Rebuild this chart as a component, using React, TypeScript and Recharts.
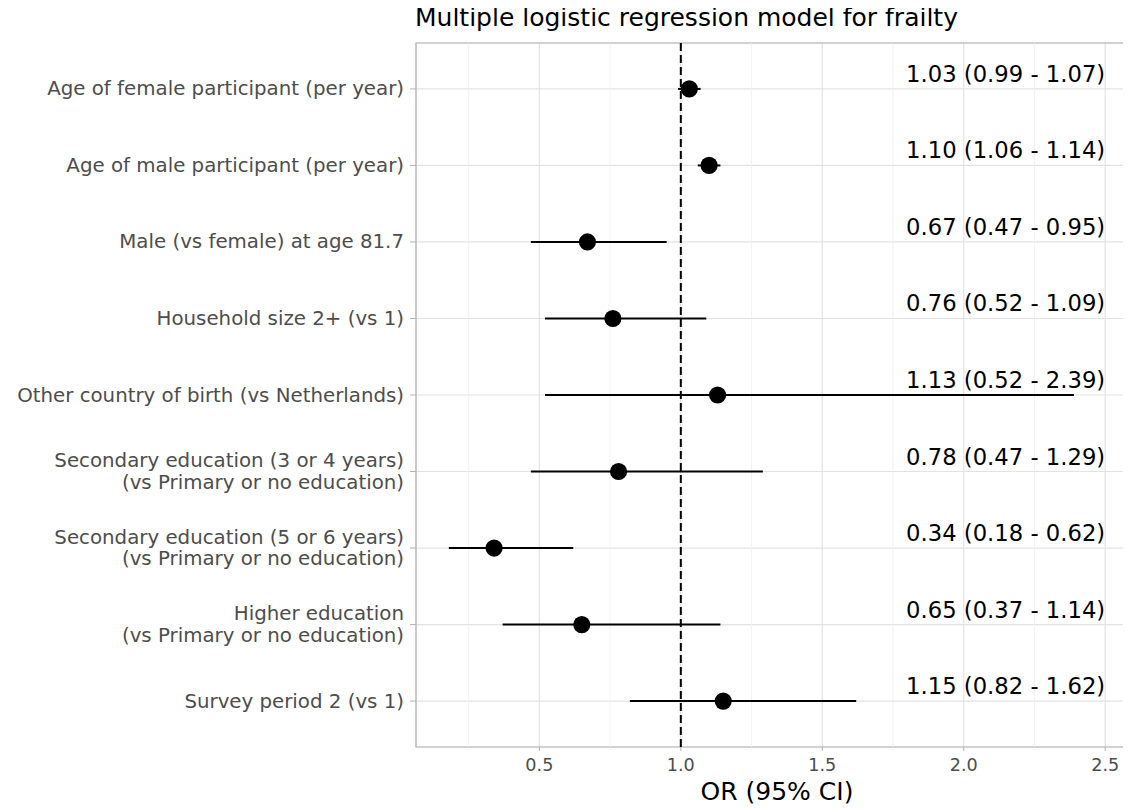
import React from "react";
import {
  ScatterChart,
  Scatter,
  XAxis,
  YAxis,
  CartesianGrid,
  ReferenceLine,
  ReferenceArea,
  ErrorBar,
} from "recharts";

const labels = [
  "Age of female participant (per year)",
  "Age of male participant (per year)",
  "Male (vs female) at age 81.7",
  "Household size 2+ (vs 1)",
  "Other country of birth (vs Netherlands)",
  "Secondary education (3 or 4 years)\n(vs Primary or no education)",
  "Secondary education (5 or 6 years)\n(vs Primary or no education)",
  "Higher education\n(vs Primary or no education)",
  "Survey period 2 (vs 1)",
];
const orValues = [1.03, 1.1, 0.67, 0.76, 1.13, 0.78, 0.34, 0.65, 1.15];
const ciLow = [0.99, 1.06, 0.47, 0.52, 0.52, 0.47, 0.18, 0.37, 0.82];
const ciHigh = [1.07, 1.14, 0.95, 1.09, 2.39, 1.29, 0.62, 1.14, 1.62];
const xTicks = [0.5, 1.0, 1.5, 2.0, 2.5];
const xMinorTicks = [0.25, 0.75, 1.25, 1.75, 2.25];
const labelX = 2.5;
const xDomain = [0.064, 2.616];
const yDomain = [0.4, 9.6];

const rows = labels.map((_, i) => i + 1);

const pointData = labels.map((label, i) => ({
  x: orValues[i],
  y: i + 1,
  err: [orValues[i] - ciLow[i], ciHigh[i] - orValues[i]],
}));

const textData = labels.map((_, i) => ({
  x: labelX,
  y: i + 1,
  text: `${orValues[i].toFixed(2)} (${ciLow[i].toFixed(2)} - ${ciHigh[i].toFixed(2)})`,
}));

const FONT = "'DejaVu Sans', sans-serif";

const YTick = (props: any) => {
  const { x, y, payload } = props;
  const idx = Math.round(payload.value) - 1;
  const lines = (labels[idx] || "").split("\n");
  const lh = 21.5;
  const start = -((lines.length - 1) * lh) / 2;
  return (
    <g>
      {lines.map((ln, k) => (
        <text
          key={k}
          x={x}
          y={y + start + k * lh}
          textAnchor="end"
          dominantBaseline="central"
          fill="#4d4d4d"
          fontSize={19.8}
          fontFamily={FONT}
        >
          {ln}
        </text>
      ))}
    </g>
  );
};

const Dot = (props: any) => (
  <circle cx={props.cx} cy={props.cy} r={8.6} fill="#000" />
);

const TextMark = (props: any) => (
  <text
    x={props.cx}
    y={props.cy - 7}
    textAnchor="end"
    fill="#000"
    fontSize={22.7}
    fontFamily={FONT}
  >
    {props.payload.text}
  </text>
);

export default function App() {
  return (
    <div style={{ position: "relative", width: 1123, height: 801, fontFamily: FONT }}>
      <div
        style={{
          position: "absolute",
          left: 407,
          top: -3,
          fontSize: 25,
          lineHeight: 1,
          color: "#000",
          whiteSpace: "nowrap",
          zIndex: 2,
        }}
      >
        Multiple logistic regression model for frailty
      </div>
      <div
        style={{
          position: "absolute",
          left: 0,
          top: 0,
          width: 1123,
          height: 801,
          overflow: "hidden",
        }}
      >
        <ScatterChart
          width={1130}
          height={801}
          margin={{ top: 35, right: 0, bottom: 0, left: 0 }}
        >
          <CartesianGrid stroke="#e3e3e3" strokeWidth={1.2} />
          {xMinorTicks.map((v) => (
            <ReferenceLine key={v} x={v} stroke="#efefef" strokeWidth={0.8} />
          ))}
          <ReferenceArea
            x1={xDomain[0]}
            x2={xDomain[1]}
            y1={yDomain[0]}
            y2={yDomain[1]}
            fill="none"
            stroke="#b3b3b3"
            strokeWidth={1.2}
            ifOverflow="visible"
          />
          <XAxis
            type="number"
            dataKey="x"
            domain={xDomain}
            ticks={xTicks}
            tickFormatter={(v: number) => v.toFixed(1)}
            allowDataOverflow
            height={62}
            axisLine={false}
            tickSize={4}
            tickMargin={8}
            tickLine={{ stroke: "#b3b3b3" }}
            tick={{ fill: "#4d4d4d", fontSize: 17.6, fontFamily: FONT }}
          />
          <YAxis
            type="number"
            dataKey="y"
            domain={yDomain}
            ticks={rows}
            reversed
            allowDataOverflow
            width={408}
            axisLine={false}
            tickSize={6}
            tickMargin={6}
            tickLine={{ stroke: "#b3b3b3" }}
            tick={<YTick />}
          />
          <ReferenceLine
            x={1}
            stroke="#000"
            strokeWidth={2}
            strokeDasharray="8 4"
          />
          <Scatter
            data={pointData}
            shape={<Dot />}
            isAnimationActive={false}
          >
            <ErrorBar
              dataKey="err"
              direction="x"
              width={0}
              strokeWidth={2}
              stroke="#000"
              isAnimationActive={false}
            />
          </Scatter>
          <Scatter
            data={textData}
            shape={<TextMark />}
            isAnimationActive={false}
          />
        </ScatterChart>
      </div>
      <div
        style={{
          position: "absolute",
          left: 408,
          width: 722,
          top: 771,
          textAlign: "center",
          fontSize: 25,
          lineHeight: 1,
          color: "#000",
          whiteSpace: "nowrap",
        }}
      >
        OR (95% CI)
      </div>
    </div>
  );
}
